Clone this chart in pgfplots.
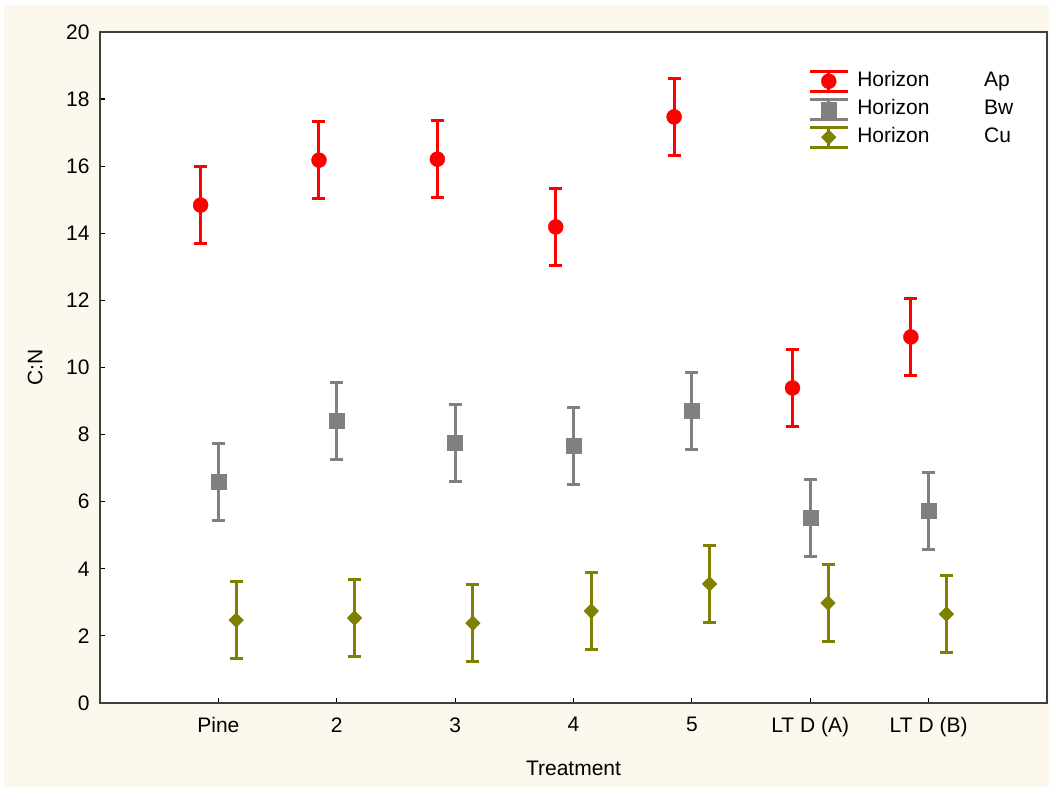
\documentclass[border=0pt]{standalone}
\usepackage{fontspec}
\setmainfont{Liberation Sans}
\usepackage{pgfplots}
\usepackage{pgfplotstable}
\pgfplotsset{compat=1.18}
\usetikzlibrary{backgrounds}

\definecolor{bgcream}{RGB}{253,248,238}
\definecolor{axgray}{RGB}{64,64,64}
\definecolor{apred}{RGB}{255,0,0}
\definecolor{bwgray}{RGB}{128,128,128}
\definecolor{cuolive}{RGB}{128,128,0}

% x: 0=Pine, 1=2, 2=3, 3=4, 4=5, 5=LT D (A), 6=LT D (B)
\pgfplotstableread{
x y e
-0.15 14.84 1.15
0.85 16.18 1.15
1.85 16.21 1.15
2.85 14.19 1.15
3.85 17.47 1.15
4.85 9.39 1.15
5.85 10.91 1.15
}\aptable
\pgfplotstableread{
x y e
0 6.59 1.15
1 8.41 1.15
2 7.75 1.15
3 7.66 1.15
4 8.70 1.15
5 5.51 1.15
6 5.72 1.15
}\bwtable
\pgfplotstableread{
x y e
0.15 2.47 1.15
1.15 2.53 1.15
2.15 2.38 1.15
3.15 2.74 1.15
4.15 3.55 1.15
5.15 2.98 1.15
6.15 2.65 1.15
}\cutable

\newcommand{\bigfont}{\fontsize{21}{24}\selectfont}
\newcommand{\legtxt}[1]{\hspace{6pt}\makebox[127pt][l]{Horizon}#1}

\pgfplotsset{
  errlegend/.style={
    legend image code/.code={
      \draw[mark=none, line width=3pt] (0pt,-10pt) -- (38pt,-10pt)
        (0pt,10pt) -- (38pt,10pt) (19pt,-10pt) -- (19pt,10pt);
      \draw[only marks] plot coordinates {(19pt,0pt)};
    }
  },
  ebar/.style={
    only marks, errlegend,
    error bars/y dir=both, error bars/y explicit,
    error bars/error mark=-,
    error bars/error bar style={line width=3pt},
    error bars/error mark options={rotate=90, line width=3pt, mark size=6.5pt}
  }
}

\begin{document}
\begin{tikzpicture}
  \begin{axis}[
      at={(0pt,0pt)}, anchor=south west,
      scale only axis, width=947pt, height=671pt,
      xmin=-1, xmax=7, ymin=0, ymax=20,
      xtick={0,1,2,3,4,5,6},
      xticklabels={Pine,2,3,4,5,LT D (A),LT D (B)},
      ytick={0,2,4,6,8,10,12,14,16,18,20},
      tick pos=left, tick align=inside,
      major tick length=5pt,
      axis line style={axgray, line width=2pt},
      tick style={black, line width=1.2pt},
      font=\bigfont,
      /pgf/number format/assume math mode=true,
      yticklabel style={xshift=-7pt},
      xticklabel style={yshift=-11pt},
      xlabel={Treatment}, ylabel={C:N},
      xlabel style={at={(axis description cs:0.5,-0.098)}, anchor=center},
      ylabel style={at={(axis description cs:-0.0686,0.5)}, anchor=center},
      axis background/.style={fill=white},
      legend cell align=left,
      legend style={at={(axis description cs:0.7445,0.947)}, anchor=north west,
        draw=none, fill=none, row sep=5pt, font=\bigfont,
        nodes={inner sep=2pt, text height=14pt, text depth=4pt}},
    ]
    \addplot[ebar, color=apred, mark=*,
      mark options={draw=none, fill=apred, mark size=7.5pt}]
      table[x=x, y=y, y error=e] {\aptable};
    \addlegendentry{\legtxt{Ap}}
    \addplot[ebar, color=bwgray, mark=square*,
      mark options={draw=none, fill=bwgray, mark size=7.5pt}]
      table[x=x, y=y, y error=e] {\bwtable};
    \addlegendentry{\legtxt{Bw}}
    \addplot[ebar, color=cuolive, mark=diamond*,
      mark options={draw=none, fill=cuolive, mark size=7.5pt, xscale=1.3}]
      table[x=x, y=y, y error=e] {\cutable};
    \addlegendentry{\legtxt{Cu}}
  \end{axis}
  \begin{scope}[on background layer]
    \fill[white] (-100pt,-88pt) rectangle (952pt,703pt);
    \fill[bgcream] (-96pt,-84pt) rectangle (949pt,698pt);
  \end{scope}
  \pgfresetboundingbox
  \useasboundingbox (-100pt,-88pt) rectangle (952pt,703pt);
\end{tikzpicture}
\end{document}
